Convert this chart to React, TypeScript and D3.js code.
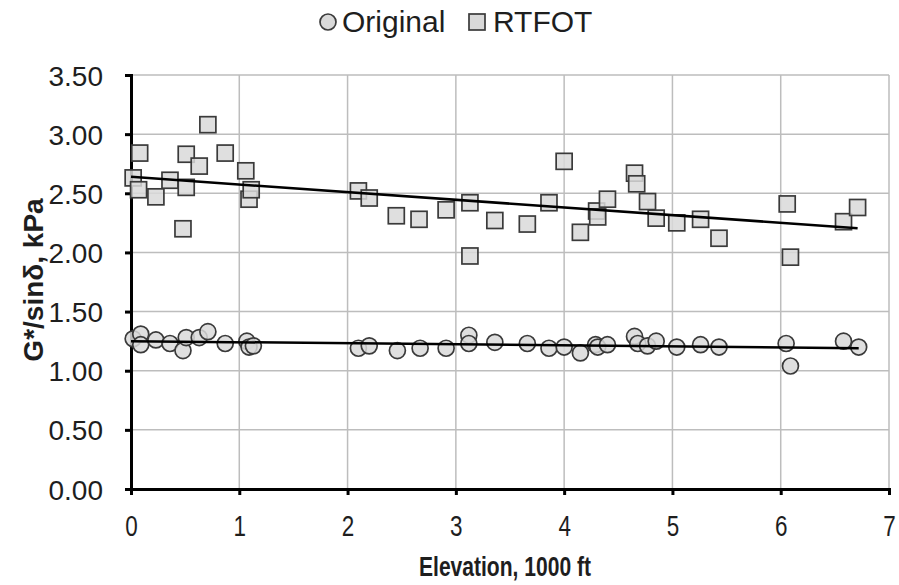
import React, { useEffect, useRef } from 'react';
import * as d3 from 'd3';

// Elevation (1000 ft) and G*/sin(delta) in kPa
const origElev = [0.02, 0.09, 0.09, 0.23, 0.36, 0.48, 0.51, 0.63, 0.71, 0.87, 1.07, 1.09, 1.13, 2.10, 2.20, 2.46, 2.67, 2.91, 3.12, 3.12, 3.36, 3.66, 3.86, 4.00, 4.15, 4.29, 4.31, 4.40, 4.65, 4.68, 4.77, 4.85, 5.04, 5.26, 5.43, 6.05, 6.09, 6.58, 6.72];
const origG = [1.27, 1.31, 1.22, 1.26, 1.23, 1.17, 1.28, 1.28, 1.33, 1.23, 1.25, 1.20, 1.21, 1.19, 1.21, 1.17, 1.19, 1.19, 1.30, 1.23, 1.24, 1.23, 1.19, 1.20, 1.15, 1.22, 1.20, 1.22, 1.29, 1.23, 1.21, 1.25, 1.20, 1.22, 1.20, 1.23, 1.04, 1.25, 1.20];

const rtfotElev = [0.02, 0.08, 0.07, 0.23, 0.36, 0.48, 0.51, 0.51, 0.63, 0.71, 0.87, 1.06, 1.09, 1.11, 2.10, 2.20, 2.45, 2.66, 2.91, 3.13, 3.13, 3.36, 3.66, 3.86, 4.00, 4.15, 4.30, 4.31, 4.40, 4.65, 4.67, 4.77, 4.85, 5.04, 5.26, 5.43, 6.06, 6.09, 6.58, 6.71];
const rtfotG = [2.63, 2.84, 2.53, 2.47, 2.61, 2.20, 2.83, 2.55, 2.73, 3.08, 2.84, 2.69, 2.45, 2.53, 2.52, 2.46, 2.31, 2.28, 2.36, 2.42, 1.97, 2.27, 2.24, 2.42, 2.77, 2.17, 2.35, 2.30, 2.45, 2.67, 2.58, 2.43, 2.29, 2.25, 2.28, 2.12, 2.41, 1.96, 2.26, 2.38];

const xTicks = [0, 1, 2, 3, 4, 5, 6, 7];
const yTicks = [0, 0.5, 1, 1.5, 2, 2.5, 3, 3.5];

const FONT = 'Liberation Sans, Arial, sans-serif';
const FILL = '#d9d9d9';
const EDGE = '#3a3a3a';
const TEXT = '#1e1e1e';

const fit = (xs: number[], ys: number[]) => {
  const mx = d3.mean(xs) as number;
  const my = d3.mean(ys) as number;
  let num = 0, den = 0;
  xs.forEach((x, i) => { num += (x - mx) * (ys[i] - my); den += (x - mx) * (x - mx); });
  const b = num / den;
  return { a: my - b * mx, b };
};

const App = () => {
  const svgRef = useRef(null);

  useEffect(() => {
    const width = 899;
    const height = 585;
    const margin = { top: 75, right: 10, bottom: 96, left: 131 };

    const svg = d3.select(svgRef.current);
    svg.selectAll('*').remove();
    svg.attr('width', width).attr('height', height);

    const x = d3.scaleLinear().domain([0, 7]).range([margin.left, 889]);
    const y = d3.scaleLinear().domain([0, 3.5]).range([489, margin.top]);

    // gridlines
    const grid = svg.append('g');
    grid.selectAll('.hg').data(yTicks.slice(1)).enter().append('line')
      .attr('x1', x(0)).attr('x2', x(7))
      .attr('y1', d => y(d)).attr('y2', d => y(d))
      .attr('stroke', '#bdbdbd').attr('stroke-width', 1.5);
    grid.selectAll('.vg').data(xTicks.slice(1)).enter().append('line')
      .attr('x1', d => x(d)).attr('x2', d => x(d))
      .attr('y1', y(0)).attr('y2', y(3.5))
      .attr('stroke', '#bdbdbd').attr('stroke-width', 1.5);

    // axes
    const xAxis = svg.append('g')
      .attr('transform', `translate(0,${y(0)})`)
      .call(d3.axisBottom(x).tickValues(xTicks).tickFormat(d3.format('d')).tickSizeOuter(0).tickSize(6).tickPadding(20));
    const yAxis = svg.append('g')
      .attr('transform', `translate(${x(0)},0)`)
      .call(d3.axisLeft(y).tickValues(yTicks).tickFormat(d3.format('.2f')).tickSizeOuter(0).tickSize(6).tickPadding(22));
    [xAxis, yAxis].forEach(g => {
      g.select('.domain').attr('stroke', '#000').attr('stroke-width', 3);
      g.selectAll('.tick line').attr('stroke', '#000').attr('stroke-width', 3);
      g.selectAll('.tick text').attr('font-family', FONT).attr('fill', TEXT);
    });
    // x labels look condensed in the original
    xAxis.selectAll('.tick text').attr('font-size', 29)
      .attr('textLength', 12.5).attr('lengthAdjust', 'spacingAndGlyphs');
    yAxis.selectAll('.tick text').attr('font-size', 28).attr('dy', '0.36em');

    // points
    svg.append('g').selectAll('circle').data(origElev).enter().append('circle')
      .attr('cx', d => x(d)).attr('cy', (d, i) => y(origG[i])).attr('r', 8)
      .attr('fill', FILL).attr('stroke', EDGE).attr('stroke-width', 1.7).attr('fill-opacity', 0.85);
    svg.append('g').selectAll('rect').data(rtfotElev).enter().append('rect')
      .attr('x', d => x(d) - 8).attr('y', (d, i) => y(rtfotG[i]) - 8)
      .attr('width', 16).attr('height', 16)
      .attr('fill', FILL).attr('stroke', EDGE).attr('stroke-width', 1.7).attr('fill-opacity', 0.85);

    // linear trendlines
    [[origElev, origG], [rtfotElev, rtfotG]].forEach(([xs, ys]) => {
      const { a, b } = fit(xs, ys);
      const x0 = 0;
      const x1 = d3.max(xs) as number;
      svg.append('line')
        .attr('x1', x(x0)).attr('y1', y(a + b * x0))
        .attr('x2', x(x1)).attr('y2', y(a + b * x1))
        .attr('stroke', '#000').attr('stroke-width', 2.5);
    });

    // axis titles
    svg.append('text')
      .attr('x', 505).attr('y', 576).attr('text-anchor', 'middle')
      .attr('font-family', FONT).attr('font-size', 28).attr('font-weight', 'bold').attr('fill', TEXT)
      .attr('textLength', 172).attr('lengthAdjust', 'spacingAndGlyphs')
      .text('Elevation, 1000 ft');
    svg.append('text')
      .attr('transform', 'translate(42.5,280) rotate(-90)').attr('text-anchor', 'middle')
      .attr('font-family', FONT).attr('font-size', 28).attr('font-weight', 'bold').attr('fill', TEXT)
      .text('G*/sinδ, kPa');

    // legend
    const leg = svg.append('g').attr('font-family', FONT).attr('font-size', 30).attr('fill', TEXT);
    leg.append('circle').attr('cx', 328).attr('cy', 22).attr('r', 8)
      .attr('fill', FILL).attr('stroke', EDGE).attr('stroke-width', 1.7);
    leg.append('text').attr('x', 342).attr('y', 32).text('Original');
    leg.append('rect').attr('x', 469).attr('y', 14).attr('width', 16).attr('height', 16)
      .attr('fill', FILL).attr('stroke', EDGE).attr('stroke-width', 1.7);
    leg.append('text').attr('x', 493).attr('y', 32).text('RTFOT');
  }, []);

  return <svg ref={svgRef} style={{ position: 'absolute', left: 0, top: 0 }}></svg>;
};

export default App;
